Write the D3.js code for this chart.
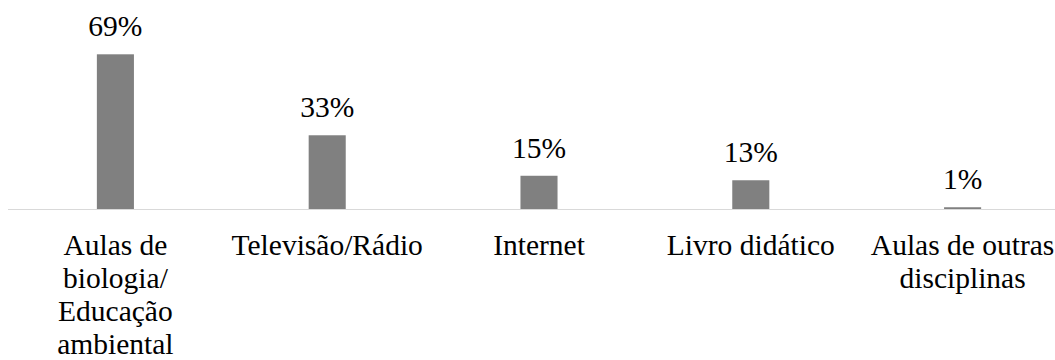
<!DOCTYPE html>
<html><head><meta charset="utf-8">
<script src="https://cdn.jsdelivr.net/npm/d3@7"></script>
<style>body{margin:0;background:#fff}svg{display:block}</style>
</head><body><svg id="c" width="1055" height="360"></svg>
<script>
const categories = [["Aulas de","biologia/","Educação","ambiental"],["Televisão/Rádio"],["Internet"],["Livro didático"],["Aulas de outras","disciplinas"]];
const values = [69, 33, 15, 13, 1];
const labels = ["69%","33%","15%","13%","1%"];
const FONT = "'Liberation Serif'";

const svg = d3.select("#c");
const x = d3.scaleBand().domain(d3.range(values.length)).range([9.5, 1068.5]).padding(0);
const y = d3.scaleLinear().domain([0, 69]).range([209.5, 54.3]);
const bw = x.bandwidth() * 0.175;

svg.selectAll("rect.bar").data(values).join("rect")
  .attr("x", (d,i) => x(i) + x.bandwidth()/2 - bw/2)
  .attr("width", bw)
  .attr("y", d => y(d))
  .attr("height", d => y(0) - y(d))
  .attr("fill", "#808080");

svg.append("line").attr("x1", 8).attr("x2", 1055).attr("y1", 209.5).attr("y2", 209.5)
  .attr("stroke", "#d9d9d9").attr("stroke-width", 1);

svg.selectAll("text.val").data(values).join("text").attr("class","val")
  .attr("x", (d,i) => x(i) + x.bandwidth()/2)
  .attr("y", d => y(d) - 18)
  .attr("text-anchor", "middle").attr("font-size", 29.5)
  .attr("font-family", FONT).attr("fill", "#000")
  .text((d,i) => labels[i]);

const g = svg.selectAll("text.cat").data(categories).join("text").attr("class","cat")
  .attr("x", (d,i) => x(i) + x.bandwidth()/2)
  .attr("y", 255)
  .attr("text-anchor", "middle").attr("font-size", 29.5)
  .attr("font-family", FONT).attr("fill", "#000");
g.selectAll("tspan").data(d => d).join("tspan")
  .attr("x", function(){ return d3.select(this.parentNode).attr("x"); })
  .attr("dy", (d,j) => j === 0 ? 0 : 33)
  .text(d => d);
</script></body></html>
